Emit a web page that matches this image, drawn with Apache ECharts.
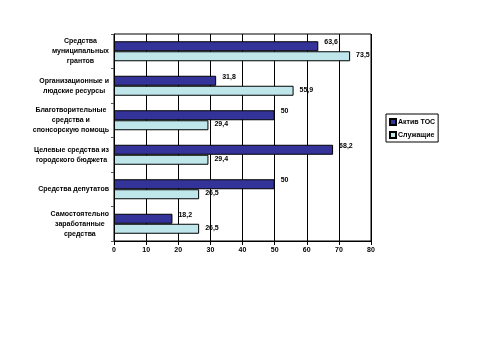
<!DOCTYPE html>
<html><head><meta charset="utf-8">
<script src="https://cdn.jsdelivr.net/npm/echarts@6/dist/echarts.min.js"></script>
<style>html,body{margin:0;padding:0;background:#fff}#c{width:480px;height:360px}</style>
</head><body><div id="c"></div>
<script>
const categories = [
  "Средства\nмуниципальных\nгрантов",
  "Организационные и\nлюдские ресурсы",
  "Благотворительные\nсредства и\nспонсорскую помощь",
  "Целевые средства из\nгородского бюджета",
  "Средства депутатов",
  "Самостоятельно\nзаработанные\nсредства"
];
const aktivTOS = [63.6, 31.8, 50, 68.2, 50, 18.2];
const sluzhashchie = [73.5, 55.9, 29.4, 29.4, 26.5, 26.5];
const seriesNames = ["Актив ТОС", "Служащие"];

const FONT = "Liberation Sans, Arial, sans-serif";
const lbl = {
  show: true, position: 'right', distance: 6,
  fontFamily: FONT, fontSize: 7, fontWeight: 'bold', color: '#000',
  formatter: p => String(p.value).replace('.', ',')
};
const chart = echarts.init(document.getElementById('c'), null, {renderer: 'canvas'});
chart.setOption({
  animation: false,
  backgroundColor: '#fff',
  grid: {left: 114, right: 109, top: 34, bottom: 119, show: true, borderColor: '#000', borderWidth: 1},
  legend: {
    orient: 'vertical', left: 386, top: 114,
    data: seriesNames,
    itemWidth: 6, itemHeight: 6, itemGap: 5,
    padding: [4, 3, 3, 3],
    borderColor: '#000', borderWidth: 1,
    textStyle: {fontFamily: FONT, fontSize: 7, fontWeight: 'bold', color: '#000', padding: [0, 0, 0, -3]},
    icon: 'rect'
  },
  xAxis: {
    type: 'value', min: 0, max: 80, interval: 10,
    axisLine: {show: true, lineStyle: {color: '#000'}},
    axisTick: {show: true, length: 4, lineStyle: {color: '#000'}},
    axisLabel: {fontFamily: FONT, fontSize: 7, fontWeight: 'bold', color: '#000', margin: 6},
    splitLine: {show: true, lineStyle: {color: '#000', width: 1}}
  },
  yAxis: {
    type: 'category', data: categories, inverse: true,
    axisLine: {show: true, lineStyle: {color: '#000'}},
    axisTick: {show: true, length: 3, lineStyle: {color: '#555'}},
    axisLabel: {
      fontFamily: FONT, fontSize: 7, fontWeight: 'bold', color: '#000', margin: 5,
      align: 'right', lineHeight: 10,
      formatter: v => v.split('\n').map(l => '{c|' + l + '}').join('\n'),
      rich: {c: {align: 'center', fontFamily: FONT, fontSize: 7, fontWeight: 'bold', color: '#000', lineHeight: 10}}
    }
  },
  series: [
    {
      name: seriesNames[0], type: 'bar', data: aktivTOS, barWidth: 10, barGap: '0%',
      itemStyle: {color: '#333399', borderColor: '#000', borderWidth: 1},
      label: Object.assign({}, lbl, {offset: [0, -4]})
    },
    {
      name: seriesNames[1], type: 'bar', data: sluzhashchie, barWidth: 10,
      itemStyle: {color: '#bfe6ea', borderColor: '#000', borderWidth: 1},
      label: Object.assign({}, lbl, {offset: [0, -1]})
    }
  ]
});
</script></body></html>
